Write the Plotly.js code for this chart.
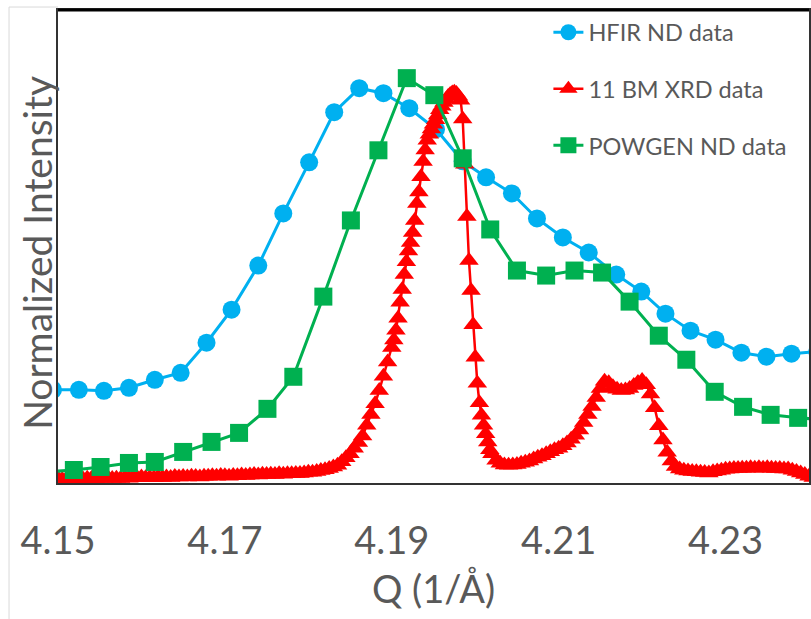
<!DOCTYPE html>
<html>
<head>
<meta charset="utf-8">
<script src="https://cdn.plot.ly/plotly-3.0.1.min.js"></script>
<style>html,body{margin:0;padding:0;background:#fff;}#chart{width:811px;height:619px;}</style>
</head>
<body>
<div id="chart"></div>
<script>
// HFIR ND data (Q in 1/Å, normalized intensity)
const hfirQ = [4.1494,4.1525,4.1555,4.1585,4.1616,4.1647,4.1678,4.1708,4.1740,4.1770,4.1801,4.1831,4.1861,4.1890,4.1921,4.1953,4.1985,4.2013,4.2044,4.2074,4.2105,4.2136,4.2169,4.2199,4.2228,4.2258,4.2288,4.2319,4.2349,4.2379,4.2410];
const hfirI = [0.2325,0.2325,0.230,0.2375,0.2575,0.275,0.350,0.4325,0.5425,0.6725,0.800,0.925,0.985,0.9725,0.935,0.8825,0.8025,0.7625,0.7225,0.660,0.6125,0.575,0.520,0.4775,0.4225,0.380,0.3575,0.325,0.315,0.3225,0.3275];

// POWGEN ND data
const powgenQ = [4.1486,4.1519,4.1551,4.1585,4.1616,4.1650,4.1684,4.1717,4.1751,4.1782,4.1818,4.1851,4.1884,4.1918,4.1951,4.1985,4.2018,4.2050,4.2085,4.2119,4.2152,4.2185,4.2220,4.2253,4.2287,4.2321,4.2354,4.2387,4.2421];
const powgenI = [0.0275,0.0325,0.040,0.050,0.0525,0.0775,0.1025,0.125,0.185,0.265,0.465,0.655,0.830,1.010,0.9675,0.810,0.6325,0.530,0.5175,0.530,0.525,0.4525,0.3675,0.3075,0.2275,0.190,0.170,0.1625,0.1575];

// 11 BM XRD data
const xrdQ = [
4.1480,4.1485,4.1490,4.1495,4.1500,4.1505,4.1510,4.1515,4.1520,4.1525,
4.1530,4.1535,4.1540,4.1545,4.1550,4.1555,4.1560,4.1565,4.1570,4.1575,
4.1580,4.1585,4.1590,4.1595,4.1600,4.1605,4.1610,4.1615,4.1620,4.1625,
4.1630,4.1635,4.1640,4.1645,4.1650,4.1655,4.1660,4.1665,4.1670,4.1675,
4.1680,4.1685,4.1690,4.1695,4.1700,4.1705,4.1710,4.1715,4.1720,4.1725,
4.1730,4.1735,4.1740,4.1745,4.1750,4.1755,4.1760,4.1765,4.1770,4.1775,
4.1780,4.1785,4.1790,4.1795,4.1800,4.1805,4.1810,4.1815,4.1820,4.1825,4.1830,4.1835,
4.1840,4.1845,4.1850,4.1855,4.1860,4.1865,4.1870,4.1875,4.1880,4.1885,4.1890,4.1895,4.1900,
4.19025,4.1905,4.19075,4.1910,4.19125,4.1915,4.19175,4.1920,4.19225,4.1925,
4.19275,4.1930,4.19325,4.1935,4.19375,4.1940,4.19425,4.1945,4.19475,4.1950,
4.19525,4.1955,4.19575,4.1960,4.19625,4.1965,4.19675,4.1970,4.19725,4.1975,
4.19775,4.1980,4.19825,4.1985,4.19875,4.1990,4.19925,4.1995,4.19975,4.2000,
4.20025,4.2005,4.20075,4.2010,4.20125,4.2015,4.20175,4.2020,
4.2025,4.2030,4.2035,4.2040,4.2045,4.2050,4.2055,4.2060,4.2065,4.2070,
4.2075,4.2080,4.2085,4.2090,4.2095,4.2100,4.2105,4.2110,4.2115,4.2120,
4.2125,4.2130,4.2135,4.2140,4.2145,4.2150,4.2155,4.2160,4.2165,4.2170,
4.2175,4.2180,4.2185,4.2190,4.2195,4.2200,4.2205,4.2210,4.2215,4.2220,
4.2225,4.2230,4.2235,4.2240,4.2245,4.2250,4.2255,4.2260,4.2265,4.2270,
4.2275,4.2280,4.2285,4.2290,4.2295,4.2300,4.2305,4.2310,4.2315,4.2320,
4.2325,4.2330,4.2335,4.2340,4.2345,4.2350,4.2355,4.2360,4.2365,4.2370,
4.2375,4.2380,4.2385,4.2390,4.2395,4.2400,4.2405];
const xrdI = [
0.008,0.010,0.008,0.009,0.011,0.009,0.010,0.008,0.010,0.011,
0.010,0.012,0.011,0.010,0.012,0.011,0.013,0.011,0.012,0.011,
0.013,0.012,0.014,0.013,0.015,0.013,0.014,0.013,0.015,0.014,
0.015,0.014,0.016,0.015,0.016,0.015,0.017,0.016,0.015,0.017,
0.017,0.018,0.017,0.019,0.018,0.017,0.019,0.018,0.020,0.019,
0.020,0.021,0.020,0.022,0.021,0.022,0.021,0.023,0.022,0.023,
0.023,0.024,0.024,0.025,0.027,0.027,0.029,0.031,0.033,0.036,0.040,0.044,
0.053,0.063,0.073,0.087,0.101,0.117,0.144,0.171,0.198,0.231,0.266,0.302,0.338,
0.357,0.381,0.411,0.451,0.483,0.520,0.552,0.579,0.600,0.625,
0.655,0.697,0.726,0.764,0.802,0.831,0.855,0.870,0.883,0.895,
0.906,0.918,0.931,0.940,0.949,0.957,0.964,0.969,0.973,0.975,
0.972,0.965,0.955,0.908,0.795,0.665,0.555,0.480,0.395,0.314,
0.249,0.200,0.169,0.144,0.123,0.102,0.083,0.073,
0.057,0.049,0.045,0.044,0.045,0.046,0.049,0.052,0.055,0.060,
0.064,0.068,0.073,0.078,0.083,0.087,0.093,0.100,0.109,0.119,
0.132,0.151,0.171,0.191,0.213,0.236,0.254,0.250,0.240,0.234,
0.231,0.232,0.236,0.243,0.251,0.256,0.245,0.222,0.188,0.143,
0.107,0.077,0.055,0.041,0.035,0.032,0.030,0.029,0.028,0.027,
0.026,0.025,0.028,0.030,0.032,0.034,0.035,0.036,0.036,0.037,
0.037,0.038,0.037,0.038,0.037,0.038,0.037,0.036,0.036,0.035,
0.035,0.032,0.029,0.025,0.021,0.017,0.014];

const xTicks = [4.15, 4.17, 4.19, 4.21, 4.23];
const xTickText = ['4.15', '4.17', '4.19', '4.21', '4.23'];

const FONT = 'Lato, "Open Sans", sans-serif';
const GRAY = '#595959';

const traces = [
  {x: hfirQ, y: hfirI, name: 'HFIR ND data', type: 'scatter', mode: 'lines+markers', legendgroup: 'a',
   line: {color: '#00B0F0', width: 3}, marker: {symbol: 'circle', size: 18, color: '#00B0F0'}},
  {x: xrdQ, y: xrdI, name: '11 BM XRD data', type: 'scatter', mode: 'lines+markers', legendgroup: 'b',
   line: {color: '#FF0000', width: 2.5}, marker: {symbol: 'triangle-up', size: 17, color: '#FF0000'}},
  {x: powgenQ, y: powgenI, name: 'POWGEN ND data', type: 'scatter', mode: 'lines+markers', legendgroup: 'c',
   line: {color: '#00B050', width: 3}, marker: {symbol: 'square', size: 18, color: '#00B050'}}
];

const layout = {
  width: 811, height: 619,
  margin: {l: 58, r: 2, t: 10, b: 136},
  paper_bgcolor: '#ffffff', plot_bgcolor: '#ffffff',
  font: {family: FONT, color: GRAY},
  showlegend: true,
  legend: {x: 0.653, y: 0.999, xanchor: 'left', yanchor: 'top', bgcolor: 'rgba(0,0,0,0)',
           font: {family: FONT, size: 23.5, color: GRAY}, tracegroupgap: 23},
  xaxis: {range: [4.15, 4.24], tickvals: xTicks, ticktext: xTickText,
          ticks: 'outside', ticklen: 23, tickcolor: 'rgba(0,0,0,0)',
          tickfont: {family: FONT, size: 38, color: GRAY},
          showgrid: false, zeroline: false, showline: true, linecolor: '#333333', linewidth: 2, mirror: true,
          title: {text: 'Q (1/Å)', font: {family: FONT, size: 38, color: GRAY}, standoff: 16}},
  yaxis: {range: [0, 1.18], showticklabels: false, ticks: '', showgrid: false, zeroline: false,
          showline: true, linecolor: '#333333', linewidth: 2, mirror: true},
  annotations: [
    {text: 'Normalized Intensity', xref: 'paper', yref: 'paper', x: -0.029, y: 0.487,
     xanchor: 'center', yanchor: 'middle', textangle: -90, showarrow: false,
     font: {family: FONT, size: 39, color: GRAY}}
  ],
  shapes: [
    {type: 'line', xref: 'paper', yref: 'paper', x0: 0, x1: 1, y0: 1, y1: 1, line: {color: '#000000', width: 3}},
    {type: 'line', xref: 'paper', yref: 'paper', x0: -0.0652, x1: -0.0652, y0: 1.0063, y1: -0.4, line: {color: '#d9d9d9', width: 1}},
    {type: 'line', xref: 'paper', yref: 'paper', x0: -0.0652, x1: 0, y0: 1.0063, y1: 1.0063, line: {color: '#d9d9d9', width: 1}}
  ]
};

Plotly.newPlot('chart', traces, layout, {displayModeBar: false, staticPlot: true});
</script>
</body>
</html>
